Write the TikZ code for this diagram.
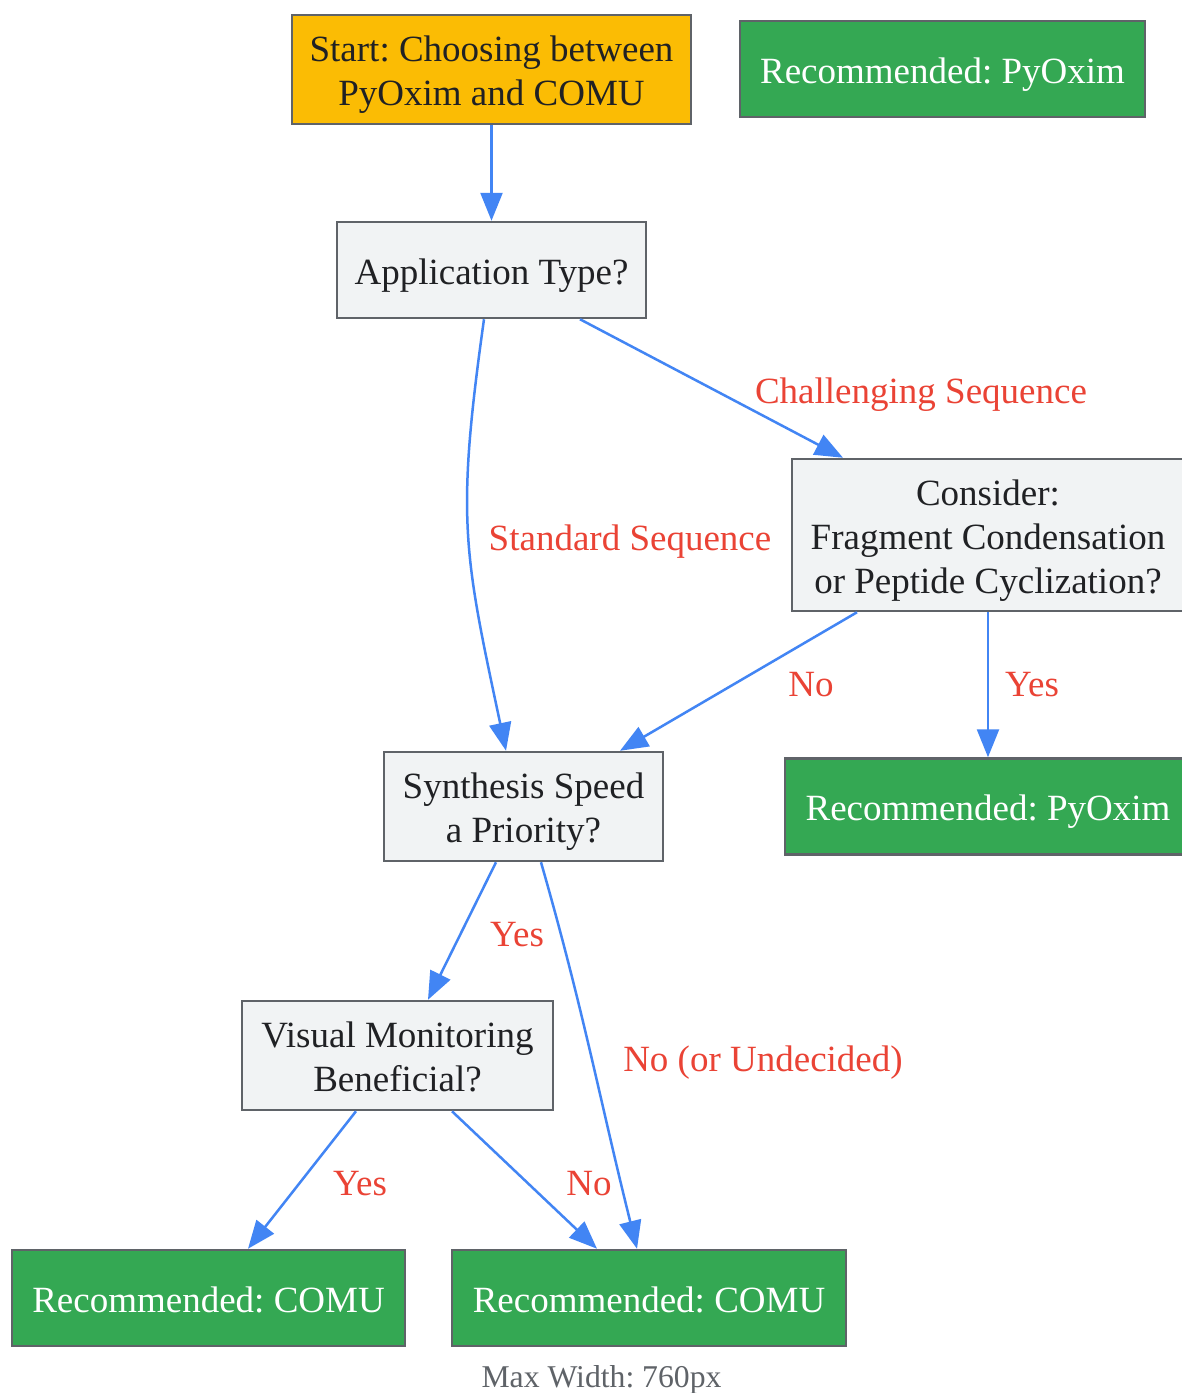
\documentclass[tikz,border=0pt]{standalone}
\usepackage{fontspec}
\setmainfont{Liberation Serif}
\usetikzlibrary{arrows.meta}
\usepackage{xcolor}
\definecolor{flowblue}{HTML}{4285F4}
\definecolor{flowred}{HTML}{EA4335}
\definecolor{flowgreen}{HTML}{34A853}
\definecolor{flowgold}{HTML}{FBBC04}
\definecolor{flowgrey}{HTML}{F1F3F4}
\definecolor{flowedge}{HTML}{5F6368}
\definecolor{flowtext}{HTML}{202124}
\frenchspacing
% one line of text, as tall as a line box
\newcommand{\lnstrut}{\rule[-8pt]{0pt}{44pt}}

\begin{document}
\begin{tikzpicture}[x=1pt,y=-1pt,>={Triangle[length=28pt,width=22pt]},
	linestrut/.style={execute at begin node={\lnstrut}},
	box/.style={draw=flowedge,line width=2.5pt,fill=flowgrey,text=flowtext,linestrut,
		inner sep=0pt,align=center,font=\fontsize{37}{44}\selectfont},
	startbox/.style={box,fill=flowgold},
	recbox/.style={box,fill=flowgreen,text=white,minimum height=96pt},
	flow/.style={->,draw=flowblue,line width=2.5pt},
	lbl/.style={text=flowred,inner sep=0pt,linestrut,font=\fontsize{37}{44}\selectfont}]
	\clip (0,0) rectangle (1182,1393);
	\fill[white] (0,0) rectangle (1182,1393);
	% decision nodes
	\node[startbox,minimum width=399pt,minimum height=109pt] (start) at (491.5,69.5)
		{\lnstrut Start: Choosing between\\\lnstrut PyOxim and COMU};
	\node[box,minimum width=309pt,minimum height=96pt] (app) at (491.5,270) {Application Type?};
	\node[box,minimum width=392pt,minimum height=152pt] (consider) at (988,535)
		{\lnstrut Consider:\\\lnstrut Fragment Condensation\\\lnstrut or Peptide Cyclization?};
	\node[box,minimum width=279pt,minimum height=109pt] (synth) at (523.5,806.5)
		{\lnstrut Synthesis Speed\\\lnstrut a Priority?};
	\node[box,minimum width=311pt,minimum height=109pt] (visual) at (397.5,1055.5)
		{\lnstrut Visual Monitoring\\\lnstrut Beneficial?};
	% recommendations
	\node[recbox,minimum width=405pt] (recA) at (942.5,69) {Recommended: PyOxim};
	\node[recbox,minimum width=406pt] (recB) at (988,806.5) {Recommended: PyOxim};
	\node[recbox,minimum width=393pt] (comuA) at (208.5,1298) {Recommended: COMU};
	\node[recbox,minimum width=394pt] (comuB) at (649,1298) {Recommended: COMU};

	\draw[flow] (start) -- (app);
	\draw[flow] ([xshift=88.5pt]app.south) -- ([xshift=-145pt]consider.north);
	\draw[flow] ([xshift=-7.5pt]app.south) to[out=-98,in=102,looseness=1.2] ([xshift=-17.5pt]synth.north);
	\draw[flow] ([xshift=-131pt]consider.south) -- ([xshift=96.5pt]synth.north);
	\draw[flow] (consider.south) -- (recB.north);
	\draw[flow] ([xshift=-27.5pt]synth.south) -- ([xshift=30.5pt]visual.north);
	\draw[flow] ([xshift=17.5pt]synth.south) to[out=-74,in=104] ([xshift=-12pt]comuB.north);
	\draw[flow] ([xshift=-41.5pt]visual.south) -- ([xshift=39.5pt]comuA.north);
	\draw[flow] ([xshift=54.5pt]visual.south) -- ([xshift=-52pt]comuB.north);

	\foreach \n/\x/\y/\t in {
			chal/921/389/Challenging Sequence,
			std/630/536/Standard Sequence,
			cno/811/682/No,
			cyes/1032/682/Yes,
			syes/517/932/Yes,
			sno/763/1057/No (or Undecided),
			vyes/360/1181/Yes,
			vno/589/1181/No}
		{
		\node[lbl] (l\n) at (\x,\y) {\t};
	};
	\node[text=flowedge,inner sep=0pt,anchor=base,font=\fontsize{31.7}{38}\selectfont] (foot)
		at (601.5,1387) {Max Width: 760px};
\end{tikzpicture}
\end{document}
